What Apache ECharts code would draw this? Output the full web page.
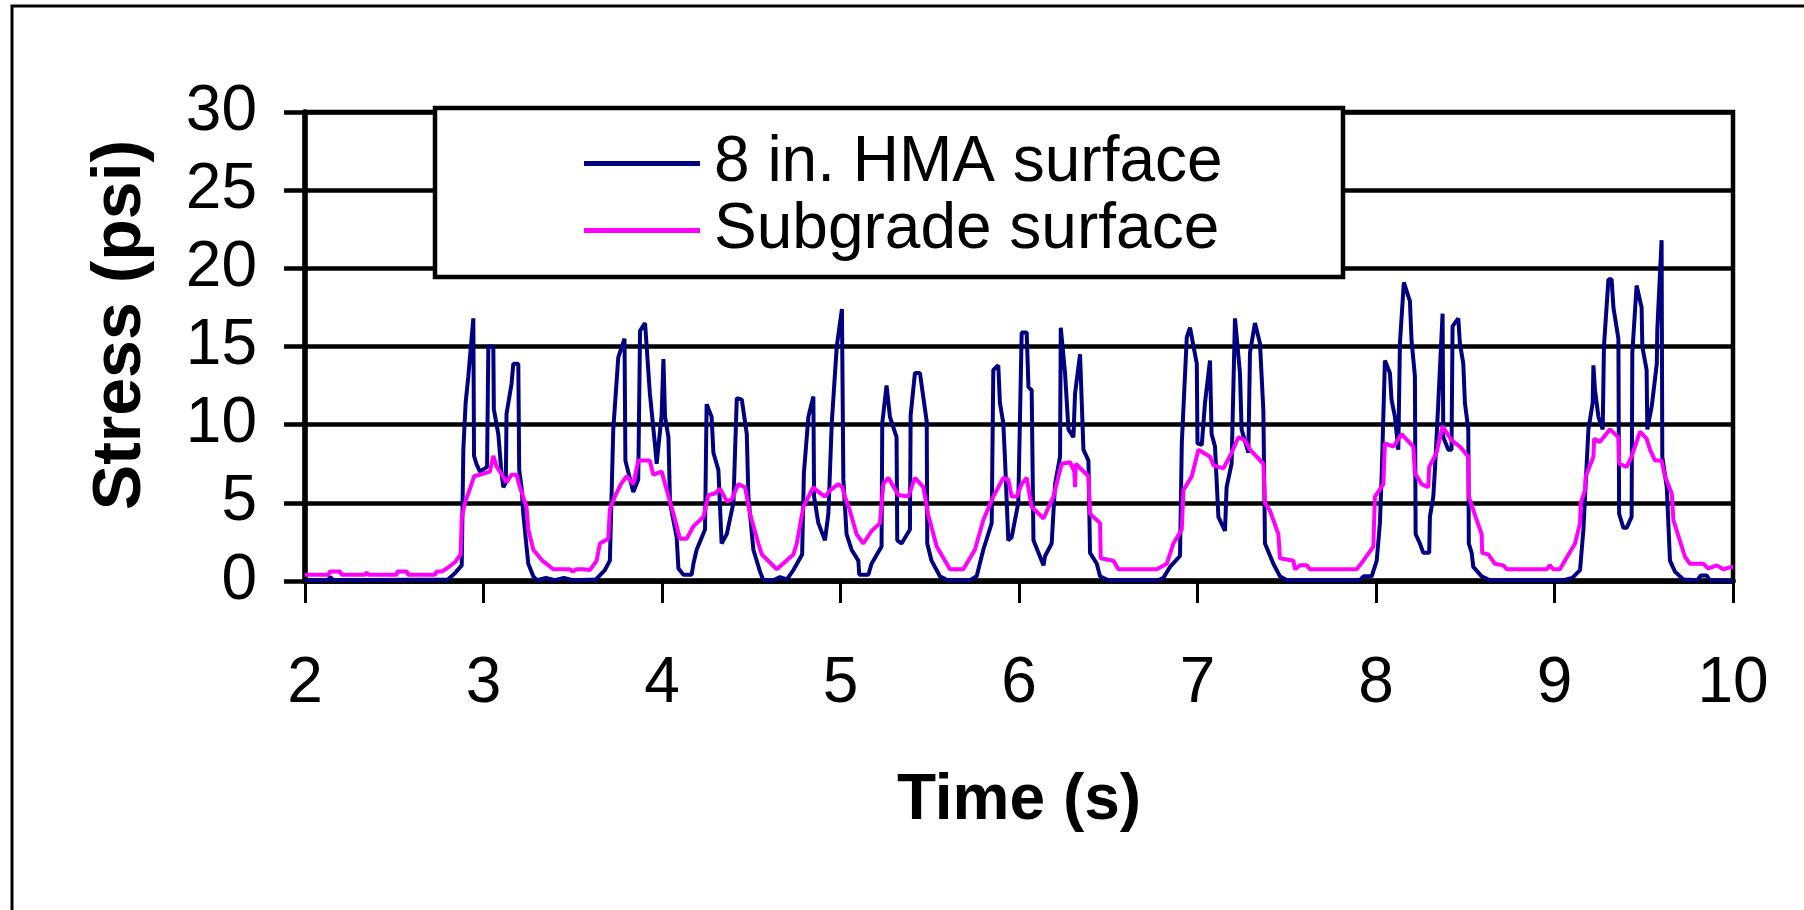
<!DOCTYPE html>
<html>
<head>
<meta charset="utf-8">
<script src="https://cdn.jsdelivr.net/npm/echarts@6/dist/echarts.min.js"></script>
<style>
html,body{margin:0;padding:0;background:#fff;}
#chart{width:1804px;height:910px;}
</style>
</head>
<body>
<div id="chart"></div>
<script>
// ---- data (time in s, stress in psi) ----
var seriesNames = ['8 in. HMA surface', 'Subgrade surface'];
var xRange = [2, 10];
var yRange = [0, 30];

var hmaSeries = [
[2.00,0.05],[2.13,0.05],[2.14,0.25],[2.16,0.05],[2.80,0.1],[2.84,0.5],[2.878,1.0],[2.887,8.4],[2.90,11.4],[2.915,13.1],
[2.943,16.8],[2.947,8.0],[2.96,7.5],[2.98,7.0],[3.02,7.3],[3.027,15.0],[3.055,15.0],[3.058,11.0],[3.083,9.4],[3.100,7.0],
[3.111,6.0],[3.125,6.3],[3.129,10.7],[3.157,12.6],[3.167,13.9],[3.195,13.9],[3.2,7.1],[3.213,6.0],[3.223,4.3],[3.241,2.2],
[3.251,1.1],[3.279,0.3],[3.30,0.05],[3.35,0.2],[3.40,0.05],[3.45,0.2],[3.50,0.05],[3.63,0.1],[3.68,0.7],[3.708,1.3],[3.727,9.7],[3.755,14.3],
[3.79,15.5],[3.795,7.7],[3.839,5.7],[3.867,6.5],[3.877,16.0],[3.905,16.5],[3.932,12.0],[3.96,8.8],[3.97,7.5],[3.998,10.6],
[4.008,14.2],[4.017,10.5],[4.036,9.2],[4.045,5.0],[4.082,2.8],[4.092,0.8],[4.12,0.4],[4.166,0.4],[4.176,1.1],[4.194,2.0],
[4.241,3.3],[4.25,11.3],[4.278,10.5],[4.288,8.2],[4.316,7.1],[4.334,2.4],[4.363,3.0],[4.40,5.0],[4.419,11.7],[4.447,11.6],
[4.475,9.4],[4.484,5.4],[4.512,2.0],[4.549,0.6],[4.568,0.05],[4.624,0.05],[4.661,0.25],[4.70,0.1],[4.736,0.7],[4.785,1.7],[4.795,6.9],
[4.82,10.5],[4.848,11.8],[4.852,5.4],[4.876,3.7],[4.913,2.6],[4.932,4.3],[4.951,10.1],[4.979,15.0],[5.008,17.4],[5.016,6.5],
[5.034,3.0],[5.062,2.0],[5.1,1.3],[5.105,0.4],[5.156,0.4],[5.174,1.1],[5.23,2.2],[5.234,10.1],[5.258,12.5],[5.277,10.5],
[5.314,9.2],[5.318,2.6],[5.342,2.4],[5.389,3.3],[5.393,10.6],[5.417,13.3],[5.445,13.3],[5.483,10.2],[5.486,2.4],[5.51,1.3],
[5.557,0.3],[5.60,0.05],[5.725,0.05],[5.763,0.3],[5.80,2.0],[5.847,3.7],[5.856,13.5],[5.884,13.8],[5.893,11.4],[5.912,10.1],
[5.921,7.95],[5.94,2.6],[5.959,2.8],[5.996,5.0],[6.015,15.9],[6.043,15.9],[6.053,12.4],[6.071,12.2],[6.081,2.6],[6.109,1.8],
[6.137,1.0],[6.146,1.6],[6.183,2.4],[6.202,6.2],[6.23,7.95],[6.234,16.2],[6.258,13.3],[6.277,9.7],[6.305,9.2],[6.314,12.0],
[6.342,14.5],[6.361,8.4],[6.389,7.7],[6.398,1.8],[6.436,1.1],[6.454,0.3],[6.50,0.05],[6.78,0.05],[6.809,0.2],[6.846,0.9],[6.902,1.6],
[6.912,8.8],[6.94,15.6],[6.958,16.2],[6.996,13.9],[7.0,8.8],[7.024,8.7],[7.042,11.4],[7.07,14.1],[7.079,9.4],[7.098,8.6],
[7.117,4.1],[7.154,3.2],[7.163,6.0],[7.191,7.5],[7.21,16.8],[7.238,13.3],[7.247,9.7],[7.285,8.2],[7.294,14.6],[7.322,16.5],
[7.35,15.2],[7.369,10.9],[7.378,2.4],[7.425,1.1],[7.462,0.3],[7.50,0.05],[7.91,0.05],[7.93,0.3],[7.976,0.3],[8.004,1.3],[8.022,3.7],
[8.032,6.9],[8.05,14.1],[8.078,13.3],[8.087,11.6],[8.106,10.5],[8.125,8.4],[8.134,15.2],[8.156,19.1],[8.19,17.9],[8.199,15.4],
[8.218,13.1],[8.222,3.0],[8.246,2.4],[8.265,1.8],[8.298,1.8],[8.302,4.1],[8.321,5.4],[8.33,7.1],[8.349,11.4],[8.373,17.1],
[8.377,9.2],[8.405,8.4],[8.423,8.4],[8.429,16.3],[8.461,16.8],[8.47,15.2],[8.489,13.9],[8.498,11.4],[8.517,9.7],[8.52,2.4],
[8.536,1.8],[8.545,0.9],[8.592,0.3],[8.638,0.05],[9.05,0.05],[9.10,0.2],[9.143,0.7],[9.162,3.3],[9.19,9.7],[9.214,11.4],[9.218,13.8],
[9.227,12.2],[9.246,10.5],[9.27,9.7],[9.277,15.0],[9.302,19.3],[9.32,19.3],[9.33,17.5],[9.358,15.5],[9.362,4.3],[9.386,3.4],
[9.404,3.4],[9.432,4.1],[9.436,14.6],[9.46,18.9],[9.488,17.5],[9.492,15.0],[9.516,13.5],[9.52,9.7],[9.545,11.2],[9.573,13.9],
[9.576,16.1],[9.60,21.8],[9.604,7.95],[9.629,6.0],[9.647,1.3],[9.675,0.6],[9.722,0.1],[9.80,0.05],[9.82,0.35],[9.853,0.35],[9.87,0.05],
[10.0,0.0]
];

var subgradeSeries = [
[2.0,0.4],[2.131,0.4],[2.14,0.6],[2.196,0.6],[2.205,0.4],[2.336,0.4],[2.345,0.55],[2.355,0.4],[2.514,0.4],[2.517,0.6],
[2.57,0.6],[2.579,0.4],[2.728,0.4],[2.737,0.6],[2.765,0.6],[2.794,0.8],[2.84,1.2],[2.872,1.7],[2.878,4.0],[2.896,5.0],
[2.924,5.9],[2.947,6.7],[2.98,6.8],[3.036,7.0],[3.055,8.0],[3.074,7.3],[3.092,7.0],[3.129,6.3],[3.157,6.8],[3.185,6.8],
[3.204,6.0],[3.241,4.75],[3.251,3.3],[3.279,2.0],[3.33,1.3],[3.391,0.75],[3.484,0.75],[3.5,0.6],[3.52,0.75],[3.559,0.75],
[3.596,0.7],[3.634,1.3],[3.652,2.4],[3.699,2.7],[3.708,4.6],[3.736,5.4],[3.77,6.2],[3.802,6.7],[3.839,6.2],[3.867,7.7],
[3.932,7.7],[3.951,6.8],[3.998,7.0],[4.017,6.2],[4.064,4.3],[4.101,2.7],[4.138,2.7],[4.176,3.5],[4.232,4.1],[4.26,5.5],
[4.297,5.6],[4.325,5.9],[4.363,5.1],[4.39,5.2],[4.428,6.2],[4.465,6.0],[4.493,4.3],[4.54,2.4],[4.559,1.7],[4.643,0.75],
[4.736,1.7],[4.755,2.4],[4.792,4.75],[4.848,6.0],[4.876,5.7],[4.913,5.4],[4.941,5.8],[4.988,6.2],[5.01,6.0],[5.025,5.4],
[5.05,4.6],[5.09,3.0],[5.128,2.4],[5.174,3.2],[5.221,3.7],[5.24,6.2],[5.268,6.6],[5.324,5.5],[5.38,5.4],[5.417,6.6],
[5.464,6.0],[5.492,4.2],[5.539,2.2],[5.613,0.75],[5.688,0.75],[5.753,2.0],[5.80,3.9],[5.856,5.4],[5.912,6.6],[5.94,6.5],
[5.959,5.4],[5.987,5.4],[6.015,6.2],[6.043,6.6],[6.071,4.75],[6.137,4.0],[6.193,5.4],[6.239,7.5],[6.286,7.6],[6.31,7.0],
[6.314,6.0],[6.318,7.5],[6.389,6.7],[6.398,4.3],[6.454,3.7],[6.458,1.45],[6.529,1.3],[6.557,0.75],[6.772,0.75],[6.828,1.1],
[6.865,2.4],[6.912,3.3],[6.921,5.8],[6.968,6.7],[7.005,8.4],[7.07,7.95],[7.089,7.4],[7.145,7.2],[7.191,8.2],[7.229,9.2],
[7.266,9.0],[7.294,8.4],[7.369,7.5],[7.378,5.0],[7.406,4.5],[7.453,3.0],[7.462,1.45],[7.537,1.3],[7.546,0.75],[7.574,1.0],
[7.612,1.0],[7.63,0.75],[7.892,0.75],[7.929,1.3],[7.985,2.2],[7.994,5.4],[8.041,6.2],[8.05,8.8],[8.097,8.6],[8.143,9.4],
[8.209,8.6],[8.218,6.9],[8.255,6.2],[8.293,6.0],[8.298,7.3],[8.339,8.2],[8.373,9.9],[8.423,9.0],[8.47,8.6],[8.517,7.95],
[8.52,5.4],[8.564,3.9],[8.592,3.0],[8.595,1.8],[8.629,1.7],[8.666,1.1],[8.713,1.0],[8.732,0.75],[8.956,0.75],[8.974,1.0],
[8.993,0.75],[9.03,0.75],[9.058,1.3],[9.115,2.4],[9.143,3.7],[9.147,5.0],[9.171,5.8],[9.175,6.7],[9.218,7.95],[9.222,9.1],
[9.255,8.9],[9.311,9.7],[9.358,9.2],[9.362,7.5],[9.404,7.3],[9.432,7.95],[9.479,9.55],[9.516,9.1],[9.535,8.4],[9.563,7.7],
[9.6,7.7],[9.619,6.7],[9.657,5.6],[9.666,3.9],[9.731,1.55],[9.759,1.1],[9.834,1.1],[9.862,0.8],[9.909,1.0],[9.946,0.75],
[9.993,0.9],[10.0,0.9]
];

var FONT = '"Liberation Sans", Arial, sans-serif';
var chart = echarts.init(document.getElementById('chart'), null, {renderer: 'canvas'});
chart.setOption({
  animation: false,
  backgroundColor: '#ffffff',
  grid: {left: 305, right: 71, top: 112, bottom: 329, show: true, borderColor: '#000', borderWidth: 4.5, backgroundColor: 'transparent', containLabel: false},
  xAxis: {
    type: 'value', min: xRange[0], max: xRange[1], interval: 1,
    axisLine: {show: true, onZero: false, lineStyle: {color: '#000', width: 5.5}},
    axisTick: {show: true, inside: false, length: 22, lineStyle: {color: '#000', width: 3}},
    axisLabel: {color: '#000', fontSize: 64, fontFamily: FONT, margin: 71},
    splitLine: {show: false},
    name: 'Time (s)', nameLocation: 'middle', nameGap: 188,
    nameTextStyle: {color: '#000', fontSize: 64, fontWeight: 'bold', fontFamily: FONT}
  },
  yAxis: {
    type: 'value', min: yRange[0], max: yRange[1], interval: 5,
    axisLine: {show: true, lineStyle: {color: '#000', width: 5.5}},
    axisTick: {show: true, inside: false, length: 21, lineStyle: {color: '#000', width: 4.5}},
    axisLabel: {color: '#000', fontSize: 64, fontFamily: FONT, margin: 48},
    splitLine: {show: true, lineStyle: {color: '#000', width: 4.5}}
  },
  legend: {
    orient: 'vertical', left: 584, top: 130, padding: 0,
    itemWidth: 116, itemHeight: 5, itemGap: 0, icon: 'rect', selectedMode: false, z: 20,
    textStyle: {color: '#000', fontSize: 64, fontFamily: FONT, lineHeight: 67, padding: [0, 0, 0, 9]},
    data: seriesNames
  },
  graphic: [
    {type: 'rect', z: 10, shape: {x: 435, y: 108, width: 908, height: 169}, style: {fill: '#fff', stroke: '#000', lineWidth: 4.5}},
    {type: 'rect', z: 1, shape: {x: 12, y: 6, width: 1900, height: 1000}, style: {fill: 'none', stroke: '#000', lineWidth: 3}},
    {type: 'text', z: 10, x: 121, y: 325, rotation: Math.PI / 2,
     style: {text: 'Stress (psi)', x: 0, y: 0, fill: '#000', font: 'bold 68px ' + FONT, textAlign: 'center', textVerticalAlign: 'middle', align: 'center', verticalAlign: 'middle'}}
  ],
  series: [
    {type: 'line', name: seriesNames[0], data: hmaSeries, symbol: 'none', showSymbol: false, z: 3,
     lineStyle: {color: '#000080', width: 4}, itemStyle: {color: '#000080'}},
    {type: 'line', name: seriesNames[1], data: subgradeSeries, symbol: 'none', showSymbol: false, z: 4,
     lineStyle: {color: '#FF00FF', width: 4}, itemStyle: {color: '#FF00FF'}}
  ]
});
</script>
</body>
</html>
